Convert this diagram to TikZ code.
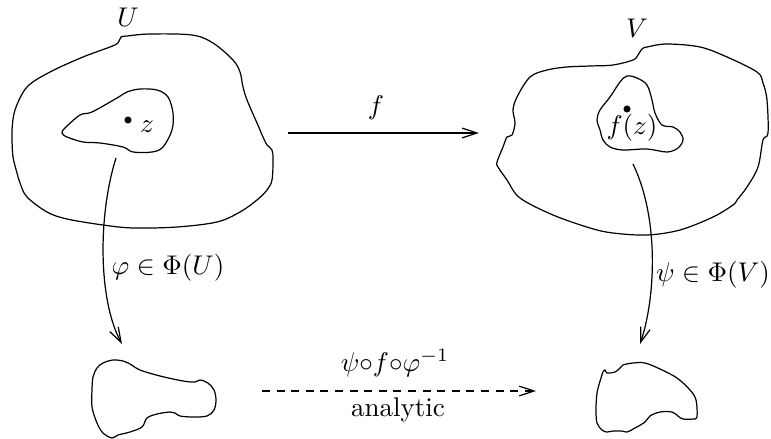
\documentclass[tikz,border=0pt]{standalone}
\usetikzlibrary{arrows.meta}
\tikzset{
  blob/.style={line width=0.45pt, smooth cycle, tension=0.55},
  maparrow/.style={line width=0.45pt, -{Straight Barb[length=5.5pt,width=3.6pt]}},
  lbl/.style={inner sep=1pt},
  pt/.style={circle, fill=black, inner sep=0pt, minimum size=2.6pt}
}
\begin{document}
\begin{tikzpicture}[x=0.37pt,y=-0.37pt]
\useasboundingbox (0,0) rectangle (771,439);
% outer U
\draw[blob] plot coordinates {(118,43) (121,37) (127,36) (150,34) (192,35) (213,43) (233,60) (240,72) (243,87) (247,100) (257,123) (263,137) (267,145) (272,150) (273,160) (272,180) (267,190) (257,200) (240,212) (217,222) (177,227) (133,228) (103,225) (67,219) (47,212) (27,197) (20,183) (17,173) (13,157) (12,140) (12,130) (15,110) (27,87) (50,72) (83,57) (110,47)};
% inner U
\draw[blob] plot coordinates {(62,133) (65,128) (80,115) (92,112) (117,98) (127,92) (140,89) (157,90) (168,97) (173,113) (172,130) (163,147) (152,152) (133,152) (123,147) (100,143) (83,142) (67,137)};
% outer V
\draw[blob] plot coordinates {(513,110) (517,97) (530,77) (547,70) (567,67) (590,66) (613,65) (633,60) (638,55) (642,49) (647,47) (667,44) (700,47) (727,57) (757,72) (763,83) (767,100) (768,133) (763,140) (758,167) (747,187) (737,200) (733,205) (713,217) (680,230) (647,235) (613,233) (590,228) (553,215) (520,198) (507,180) (498,167) (497,162) (503,147) (507,137) (512,135) (515,123)};
% inner V
\draw[blob] plot coordinates {(627,76) (637,78) (647,85) (652,100) (655,113) (662,125) (673,127) (680,132) (683,140) (678,148) (667,152) (647,149) (623,150) (610,147) (603,140) (600,130) (597,120) (600,110) (610,97) (620,82)};
% bottom left
\draw[blob] plot coordinates {(97,368) (103,363) (113,360) (123,361) (130,364) (140,370) (160,376) (183,381) (195,382) (200,380) (208,383) (214,390) (216,400) (214,410) (207,416) (193,417) (180,416) (175,413) (170,412) (157,414) (147,418) (142,427) (130,432) (118,435) (112,438) (103,433) (97,423) (92,407) (92,390) (93,377)};
% bottom right
\draw[blob] plot coordinates {(605,370) (607,373) (615,372) (620,368) (623,365) (633,363) (645,363) (660,369) (677,378) (690,390) (696,400) (697,417) (693,419) (683,419) (678,416) (672,412) (660,412) (650,416) (645,422) (635,428) (627,432) (622,431) (613,431) (607,432) (602,430) (597,423) (596,410) (597,393) (601,378) (603,372)};

% labels
\node[lbl] (U) at (128,17) {$U$};
\node[lbl] (V) at (637,28) {$V$};
\node[pt] (z) at (128,120) {};
\node[lbl] (zl) at (147,127) {$z$};
\node[pt] (fz) at (627,109) {};
\node[lbl] (fzl) at (632,128) {$f(z)$};

% arrows
\coordinate (fA) at (288,133);
\coordinate (fB) at (479,133);
\draw[maparrow] (fA) -- (fB);
\node[lbl] (fl) at (376,108) {$f$};

\coordinate (pA) at (116,158);
\coordinate (pB) at (122,344);
\draw[maparrow] (pA) .. controls (98,215) and (98,300) .. (pB);
\node[lbl] (phil) at (168,268) {$\varphi\in\Phi(U)$};

\coordinate (qA) at (633,164);
\coordinate (qB) at (640,344);
\draw[maparrow] (qA) .. controls (660,220) and (655,300) .. (qB);
\node[lbl] (psil) at (713,275) {$\psi\in\Phi(V)$};

\coordinate (dA) at (262,391);
\coordinate (dB) at (536,391);
\draw[maparrow, dash pattern=on 3pt off 2.4pt] (dA) -- (dB);
\node[lbl] (comp) at (395,363) {$\psi{\circ}f{\circ}\varphi^{-1}$};
\node[lbl] (an) at (398,410) {analytic};
\end{tikzpicture}
\end{document}
